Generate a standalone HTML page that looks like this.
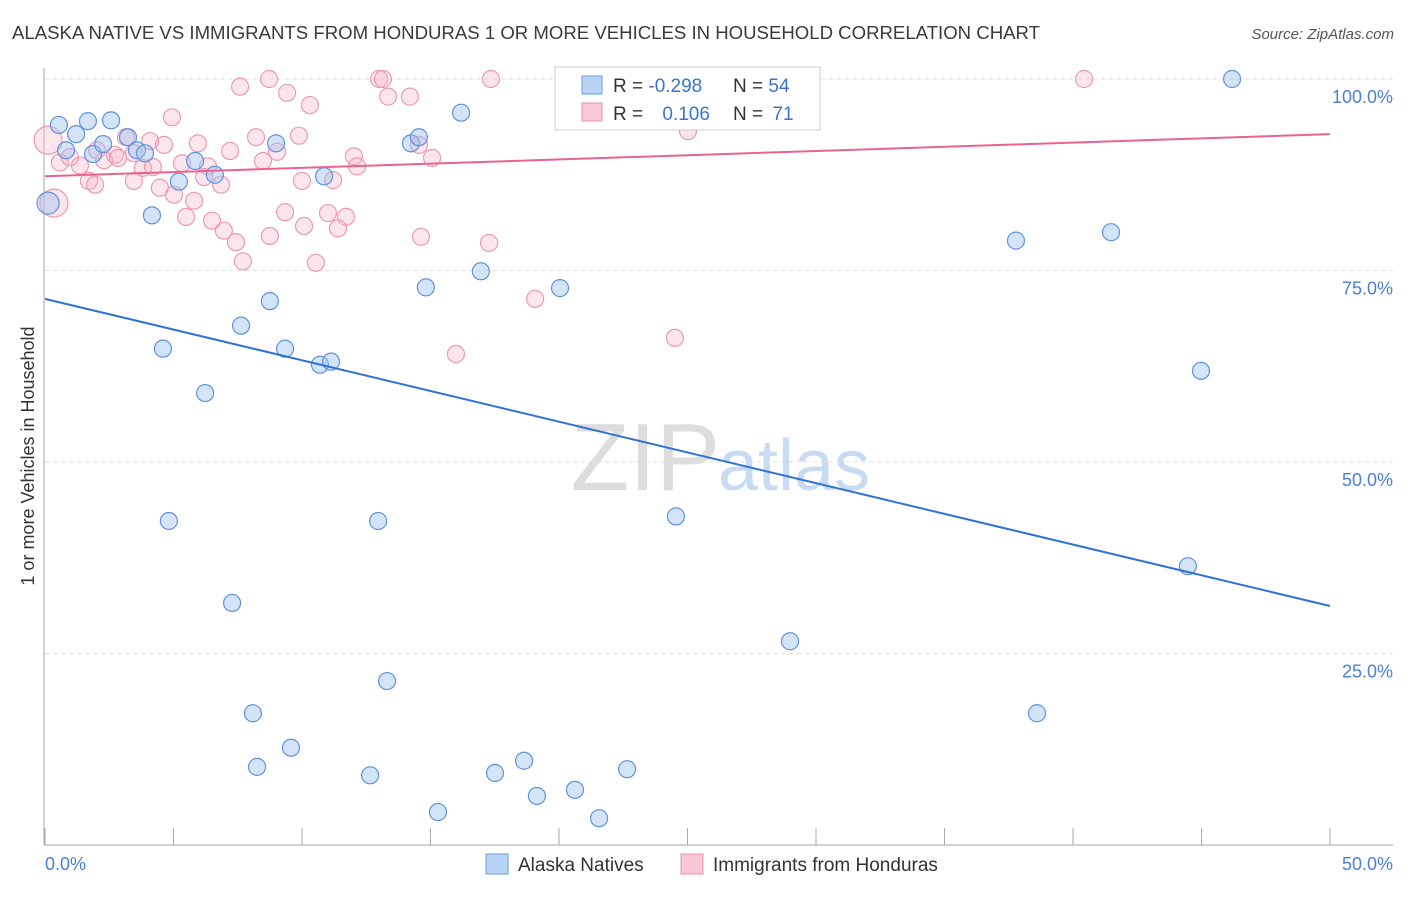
<!DOCTYPE html>
<html><head><meta charset="utf-8"><style>
body{margin:0;background:#fff;font-family:"Liberation Sans",sans-serif}
svg text{font-family:"Liberation Sans",sans-serif}
</style></head><body>
<svg id="c" width="1406" height="892">
<text x="12" y="39" font-size="18.6" fill="#3a3a3a">ALASKA NATIVE VS IMMIGRANTS FROM HONDURAS 1 OR MORE VEHICLES IN HOUSEHOLD CORRELATION CHART</text>
<text x="1394" y="39" font-size="15" fill="#555" text-anchor="end" font-style="italic">Source: ZipAtlas.com</text>
<text x="720" y="490" font-size="96" fill="#ddd" text-anchor="end" font-family="Liberation Serif">ZIP</text>
<text x="718" y="490" font-size="72" fill="#c9dbf2">atlas</text>
<g id="grid"></g><g id="pts"></g><g id="lines"></g>
<text transform="translate(34,456) rotate(-90)" font-size="18" fill="#333" text-anchor="middle">1 or more Vehicles in Household</text>
<text x="45" y="870" font-size="18" fill="#4a7fd6">0.0%</text>
<text x="1393" y="870" font-size="18" fill="#4a7fd6" text-anchor="end">50.0%</text>
<g>
<rect x="555" y="67" width="265" height="63" fill="#fff" stroke="#ccc"/>
<rect x="582" y="76" width="20" height="18" fill="#b9d3f5" stroke="#6a9be0"/>
<rect x="582" y="103" width="20" height="18" fill="#f9c6d5" stroke="#e890ab"/>
<text x="613" y="92" font-size="19" fill="#333">R = <tspan fill="#3a74d0">-0.298</tspan></text>
<text x="733" y="92" font-size="19" fill="#333">N = <tspan fill="#3a74d0">54</tspan></text>
<text x="613" y="120" font-size="19" fill="#333">R = <tspan fill="#3a74d0" dx="14">0.106</tspan></text>
<text x="733" y="120" font-size="19" fill="#333">N = <tspan fill="#3a74d0" dx="4">71</tspan></text>
</g>
<g><rect x="486" y="854" width="22" height="20" fill="#b9d3f5" stroke="#6a9be0"/><text x="518" y="871" font-size="19" fill="#333">Alaska Natives</text></g>
<g><rect x="681" y="854" width="22" height="20" fill="#f9c6d5" stroke="#e890ab"/><text x="713" y="871" font-size="19" fill="#333">Immigrants from Honduras</text></g>
</svg>
<script>
const blueX=[0.54,1.21,1.67,2.57,0.82,1.87,2.26,3.23,3.58,3.89,4.16,4.59,4.82,5.21,5.84,6.23,6.61,7.28,7.63,8.09,8.25,8.75,8.99,9.34,9.57,10.7,10.86,11.13,12.65,12.96,13.31,14.24,14.55,14.82,15.29,16.19,16.96,17.51,18.64,19.14,20.04,20.62,21.56,22.65,24.55,28.99,37.78,38.6,41.48,44.47,44.98,46.19,0.12];
const blueY=[94.0,92.8,94.5,94.6,90.7,90.2,91.5,92.4,90.7,90.3,82.2,64.8,42.3,86.6,89.3,59.0,87.5,31.6,67.8,17.2,10.2,71.0,91.6,64.8,12.7,62.7,87.3,63.1,9.1,42.3,21.4,91.6,92.4,72.8,4.3,95.6,74.9,9.4,11.0,6.4,72.7,7.2,3.5,9.9,42.9,26.6,78.9,17.2,80.0,36.4,61.9,100.0,83.8];
const pinkX=[7.59,8.72,9.42,10.31,13.0,13.15,13.35,14.2,17.35,23.77,28.13,40.43,4.94,8.21,9.88,9.03,5.95,4.09,3.15,4.63,2.02,2.72,3.46,0.58,1.36,0.97,2.3,2.84,3.81,4.2,5.33,6.34,7.2,8.48,12.02,12.14,15.06,14.55,25.02,1.71,1.95,3.46,4.47,5.02,5.8,6.85,6.19,5.49,6.5,6.96,7.43,7.7,9.34,8.75,10.08,10.0,11.21,10.54,11.01,11.71,11.4,14.63,17.28,19.07,15.99,24.51,0.35,0.12];
const pinkY=[99.0,100,98.2,96.6,100,100,97.7,97.7,100,100,100,100,95.0,92.4,92.6,90.5,91.6,91.9,92.4,91.4,90.7,90.1,90.3,89.1,88.7,89.8,89.4,89.7,88.4,88.5,89.0,88.6,90.6,89.3,89.9,88.6,89.7,91.4,93.2,86.7,86.2,86.7,85.8,84.9,84.1,86.2,87.2,82.0,81.5,80.2,78.7,76.2,82.6,79.5,80.8,86.7,86.8,76.0,82.5,82.0,80.5,79.4,78.6,71.3,64.1,66.2,83.8,92.0];
const blueTrend=[71.3,31.2];
const pinkTrend=[87.3,92.8];
const yTicks=[100,75,50,25];
const xTicks=[0,5,10,15,20,25,30,35,40,45,50];
const NS='http://www.w3.org/2000/svg';
const sx=v=>45+v*25.7, sy=v=>845-v*7.66;
function mk(t,a,p){const e=document.createElementNS(NS,t);for(const k in a)e.setAttribute(k,a[k]);p.appendChild(e);return e;}
const g=document.getElementById('grid');
const ax=mk('line',{x1:44,y1:68,x2:44,y2:845,stroke:'#aaa'},g);


const bx=mk('line',{x1:44,y1:845,x2:1393,y2:845,stroke:'#aaa'},g);


yTicks.forEach(v=>{
 const l=mk('line',{x1:45,x2:1393,y1:sy(v),y2:sy(v),stroke:'#ddd','stroke-dasharray':'4,4'},g);
 
 
 const t=mk('text',{x:1393,y:sy(v)+24,'font-size':18,fill:'#4a7fd6','text-anchor':'end'},g);
 t.textContent=v.toFixed(1)+'%';
 
 
});
xTicks.forEach(v=>{
 const l=mk('line',{x1:sx(v),x2:sx(v),y1:828,y2:845,stroke:'#aaa'},g);
 
 
});
const p=document.getElementById('pts');
pinkX.forEach((x,i)=>{
 const big=i>=pinkX.length-2;
 const c=mk('circle',{cx:sx(x),cy:sy(pinkY[i]),r:big?14:8.5,fill:'rgba(246,180,200,0.35)',stroke:'#eb9ab3','stroke-width':1.2},p);
 
 
});
blueX.forEach((x,i)=>{
 const big=i===blueX.length-1;
 const c=mk('circle',{cx:sx(x),cy:sy(blueY[i]),r:big?11:8.5,fill:'rgba(160,196,240,0.45)',stroke:'#5f93dc','stroke-width':1.2},p);
 
 
});
const L=document.getElementById('lines');
const bl=mk('line',{x1:sx(0),y1:sy(blueTrend[0]),x2:sx(50),y2:sy(blueTrend[1]),stroke:'#2f73d6','stroke-width':2},L);


const pl=mk('line',{x1:sx(0),y1:sy(pinkTrend[0]),x2:sx(50),y2:sy(pinkTrend[1]),stroke:'#e8648f','stroke-width':2},L);


</script>
</body></html>
